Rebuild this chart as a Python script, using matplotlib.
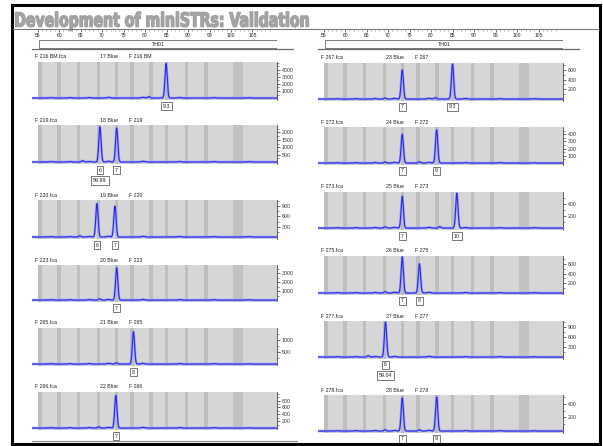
import numpy as np
import matplotlib
matplotlib.use("Agg")
import matplotlib.pyplot as plt
from matplotlib.patches import Rectangle, PathPatch
from matplotlib.lines import Line2D
from matplotlib.textpath import TextPath
from matplotlib.font_manager import FontProperties
from matplotlib.transforms import Affine2D

# ---------------- data ----------------
title_text = "Development of miniSTRs: Validation"
ruler_ticks = [55, 60, 65, 70, 75, 80, 85, 90, 95, 100, 105]
bin_centers = [55.6, 60.0, 64.5, 69.2, 73.3, 77.0, 81.4, 85.0, 89.6, 94.2]
wide_bin = (100.5, 102.8)
marker_name = "TH01"

left_files = ["F 216 BM.fca", "F 219.fca", "F 220.fca", "F 223.fca", "F 265.fca", "F 266.fca"]
left_lanes = ["17 Blue", "18 Blue", "19 Blue", "20 Blue", "21 Blue", "22 Blue"]
left_samples = ["F 216 BM", "F 219", "F 220", "F 223", "F 265", "F 266"]
left_peak_bp = [[84.9], [69.5, 73.4], [68.8, 73.0], [73.4], [77.3], [73.2]]
left_peak_rfu = [[4900], [2300, 2300], [950, 900], [3600], [1350], [950]]
left_alleles = [["9.3"], ["6", "7"], ["6", "7"], ["7"], ["8"], ["7"]]
left_ymax = [5100, 2500, 1080, 3900, 1500, 1050]
left_yticks = [[1000, 2000, 3000, 4000], [500, 1000, 1500, 2000], [300, 600, 900],
               [1000, 2000, 3000], [500, 1000], [200, 400, 600, 800]]
left_size_note = ["", "59.99", "", "", "", ""]

right_files = ["F 267.fca", "F 272.fca", "F 273.fca", "F 275.fca", "F 277.fca", "F 278.fca"]
right_lanes = ["23 Blue", "24 Blue", "25 Blue", "26 Blue", "27 Blue", "28 Blue"]
right_samples = ["F 267", "F 272", "F 273", "F 275", "F 277", "F 278"]
right_peak_bp = [[73.3, 85.0], [73.3, 81.3], [73.3, 86.0], [73.3, 77.3], [69.4], [73.3, 81.3]]
right_peak_rfu = [[600, 720], [400, 460], [530, 580], [720, 600], [1050], [490, 500]]
right_alleles = [["7", "9.3"], ["7", "9"], ["7", "10"], ["7", "8"], ["6"], ["7", "9"]]
right_ymax = [740, 500, 600, 760, 1080, 530]
right_yticks = [[200, 400, 600], [100, 200, 300, 400], [200, 400], [200, 400, 600],
                [300, 600, 900], [200, 400]]
right_size_note = ["", "", "", "", "59.04", ""]

# small baseline bumps (bp, fraction of panel scale)
bump_bp = [58.0, 62.5, 67.0, 71.5, 79.5, 88.0, 96.0, 104.0]
bump_frac = [0.010, 0.012, 0.015, 0.02, 0.02, 0.015, 0.012, 0.01]

# ---------------- layout ----------------
W, H = 603, 446
fig = plt.figure(figsize=(W / 100, H / 100), dpi=100)
fig.patch.set_facecolor("white")
plt.rcParams["font.family"] = ["Liberation Sans", "DejaVu Sans"]

XLIM = (53.7, 110.7)
GRAY_LEFT = 55.35
col_x = [(32, 277), (318, 563)]
left_rows = [(62, 98), (125, 162), (200, 237), (265, 300), (328, 364), (392, 428)]
right_rows = [(63, 99), (127, 163), (192, 228), (256, 293), (321, 357), (395, 431)]


def px_axes(x0, y0, x1, y1):
    return fig.add_axes([x0 / W, 1 - y1 / H, (x1 - x0) / W, (y1 - y0) / H])


def fig_line(x0, y0, x1, y1, **kw):
    fig.add_artist(Line2D([x0 / W, x1 / W], [1 - y0 / H, 1 - y1 / H],
                          transform=fig.transFigure, **kw))


# outer frame
for (a, b, c, d) in [(12, 5, 599.5, 5), (12, 444, 599.5, 444), (12, 5, 12, 444), (599.5, 5, 599.5, 444)]:
    fig_line(a, b, c, d, color="black", lw=2.2, solid_capstyle="projecting")

# title: heavy condensed lettering
tp = TextPath((0, 0), title_text, size=1,
              prop=FontProperties(family="DejaVu Sans", weight="bold"))
ext = tp.get_extents()
title_w_px, cap_px = 293.0, 14.2
sx = title_w_px / ext.width
sy = cap_px / 0.73
base_px = 26.6
tr = (Affine2D().translate(-ext.x0, 0).scale(sx / W, sy / H)
      .translate(15.5 / W, 1 - base_px / H) + fig.transFigure)
fig.add_artist(PathPatch(tp, transform=tr, fc="#a6a6a6", ec="#a0a0a0", lw=1.0,
                         joinstyle="round"))
fig_line(13, 28.5, 598, 28.5, color="#7a7a7a", lw=0.8)

# left column bottom rule
fig_line(32, 441, 297, 441, color="#8a8a8a", lw=0.8)

# ---------------- rulers ----------------
for ci, (x0, x1) in enumerate(col_x):
    rax = px_axes(x0, 29, x1, 51)
    rax.set_xlim(XLIM)
    rax.set_ylim(51, 29)
    rax.axis("off")
    minor = np.arange(55, 110)
    rax.vlines(minor, 29.5, 31.2, color="#555555", lw=0.4)
    rax.vlines(ruler_ticks, 29.5, 32.0, color="#333333", lw=0.5)
    for t in ruler_ticks:
        rax.text(t, 35.5, str(t), fontsize=3.6, ha="center", va="center", color="#222222")
    rax.add_patch(Rectangle((GRAY_LEFT, 40), XLIM[1] - GRAY_LEFT, 8.3,
                            fc="white", ec="#7a7a7a", lw=0.7))
    rax.text((GRAY_LEFT + XLIM[1]) / 2, 44.2, marker_name, fontsize=3.8,
             ha="center", va="center", color="#222222")
    rax.plot([XLIM[0] - 0.0, XLIM[1] + 3.8], [48.6, 48.6], color="#6a6a6a", lw=0.9,
             clip_on=False)

# ---------------- panels ----------------
xs = np.linspace(XLIM[0], XLIM[1], 2000)
SIG = 0.26


def draw_panel(x0, x1, row, fname, lane, sample, pbp, prfu, alleles, ymax, yticks, note):
    top, base = row
    ax = px_axes(x0, top, x1, base + 1.5)
    lo = -0.04 * ymax
    ax.set_xlim(XLIM)
    ax.set_ylim(lo, ymax)
    ax.set_facecolor("white")
    ax.axvspan(GRAY_LEFT, XLIM[1], color="#d6d6d6", lw=0, zorder=0)
    for b in bin_centers:
        ax.axvspan(b - 0.4, b + 0.4, color="#bebebe", lw=0, zorder=0.5)
    ax.axvspan(wide_bin[0], wide_bin[1], color="#c2c2c2", lw=0, zorder=0.5)

    sig = np.zeros_like(xs)
    for p, h in zip(pbp, prfu):
        sig += h * np.exp(-0.5 * ((xs - p) / SIG) ** 2)
        sig += 0.04 * h * np.exp(-0.5 * ((xs - (p - 4.0)) / SIG) ** 2)
    for b, f in zip(bump_bp, bump_frac):
        sig += f * ymax * np.exp(-0.5 * ((xs - b) / 0.35) ** 2)
    ax.plot(xs, sig, color="#a0a0ff", lw=1.8, zorder=2, solid_joinstyle="round")
    ax.plot(xs, sig, color="#2b2bd8", lw=0.8, zorder=3)

    for s in ["left", "top", "bottom"]:
        ax.spines[s].set_visible(False)
    ax.spines["right"].set_color("#444444")
    ax.spines["right"].set_linewidth(0.6)
    ax.yaxis.tick_right()
    ax.set_yticks(yticks)
    ax.set_yticklabels([str(t) for t in yticks])
    step = yticks[1] - yticks[0]
    ax.set_yticks(np.arange(step / 2, ymax, step / 2), minor=True)
    ax.tick_params(axis="y", which="major", length=2.5, width=0.5, pad=0.8,
                   labelsize=3.8, colors="#333333", direction="out")
    ax.tick_params(axis="y", which="minor", length=1.3, width=0.4, direction="out",
                   colors="#333333")
    ax.set_xticks([])

    # header line
    fig.text((x0 + 3) / W, 1 - (top - 5) / H, fname, fontsize=3.8, ha="left", va="center",
             color="#222222")
    fig.text((x0 + 68) / W, 1 - (top - 5) / H, lane, fontsize=3.8, ha="left", va="center",
             color="#222222")
    fig.text((x0 + 97) / W, 1 - (top - 5) / H, sample, fontsize=3.8, ha="left", va="center",
             color="#222222")

    bbox = dict(boxstyle="square,pad=0.35", fc="white", ec="#444444", lw=0.5)
    for i, (p, a) in enumerate(zip(pbp, alleles)):
        ax.annotate(a, xy=(p, lo), xytext=(0, -6.5), textcoords="offset pixels",
                    fontsize=3.8, ha="center", va="center", bbox=bbox,
                    annotation_clip=False, color="#222222")
        if i == 0 and note:
            ax.annotate(note, xy=(p, lo), xytext=(0, -17), textcoords="offset pixels",
                        fontsize=3.8, ha="center", va="center", bbox=bbox,
                        annotation_clip=False, color="#222222")


for i in range(6):
    draw_panel(col_x[0][0], col_x[0][1], left_rows[i], left_files[i], left_lanes[i],
               left_samples[i], left_peak_bp[i], left_peak_rfu[i], left_alleles[i],
               left_ymax[i], left_yticks[i], left_size_note[i])
    draw_panel(col_x[1][0], col_x[1][1], right_rows[i], right_files[i], right_lanes[i],
               right_samples[i], right_peak_bp[i], right_peak_rfu[i], right_alleles[i],
               right_ymax[i], right_yticks[i], right_size_note[i])

fig.savefig("out.png", dpi=100, facecolor="white")
